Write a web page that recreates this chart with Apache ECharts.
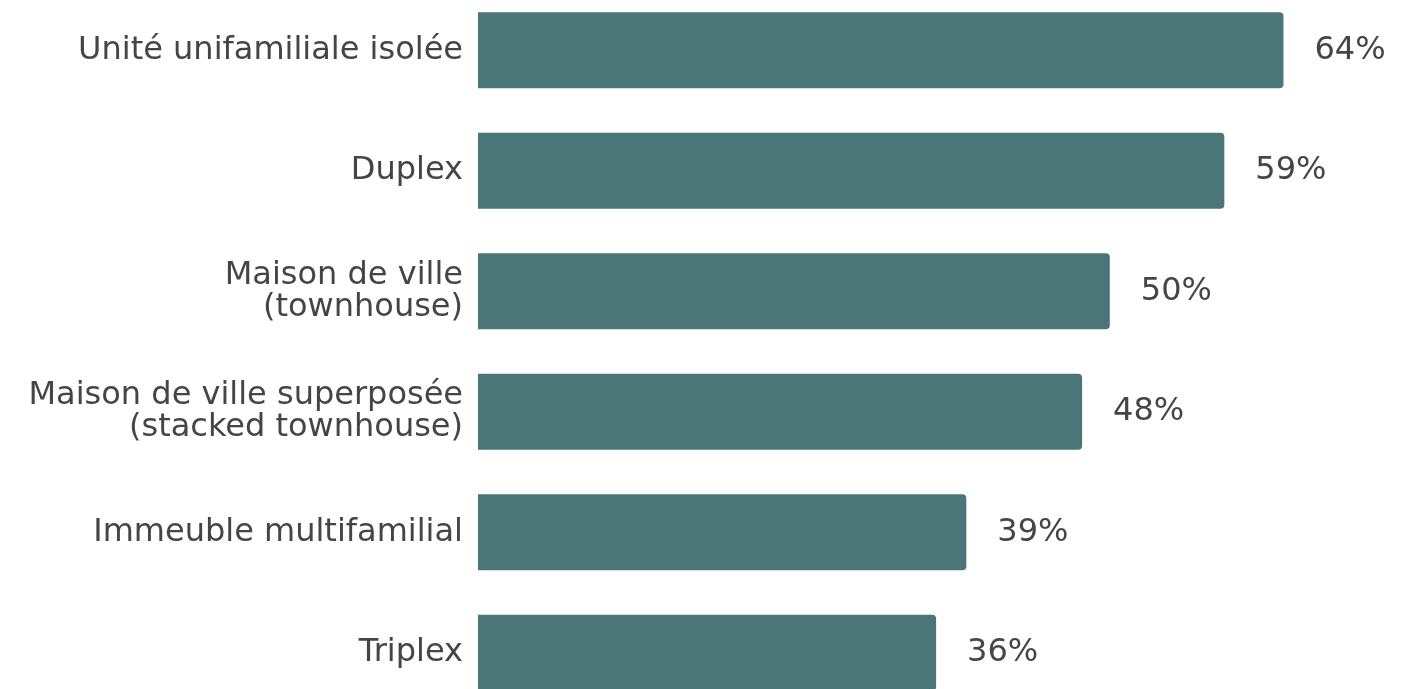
<!DOCTYPE html>
<html>
<head>
<meta charset="utf-8">
<script src="https://cdn.jsdelivr.net/npm/echarts@6/dist/echarts.min.js"></script>
<style>
html,body{margin:0;padding:0;background:#fff;overflow:hidden;}
#main{position:absolute;left:0;top:-10px;width:1425px;height:723px;}
</style>
</head>
<body>
<div id="main"></div>
<script>
const categories = [
  "Unité unifamiliale isolée",
  "Duplex",
  "Maison de ville\n(townhouse)",
  "Maison de ville superposée\n(stacked townhouse)",
  "Immeuble multifamilial",
  "Triplex"
];
const values = [64, 59.3, 50.2, 48, 38.8, 36.4];

const chart = echarts.init(document.getElementById('main'), null, {renderer: 'canvas'});
chart.setOption({
  backgroundColor: '#ffffff',
  animation: false,
  grid: { left: 478, right: 66, top: 0, bottom: 0 },
  xAxis: {
    type: 'value', min: 0, max: 70, show: false
  },
  yAxis: {
    type: 'category',
    data: categories,
    inverse: true,
    axisLine: { show: false },
    axisTick: { show: false },
    axisLabel: {
      margin: 15,
      fontFamily: 'DejaVu Sans, Verdana, sans-serif',
      fontSize: 32,
      lineHeight: 32,
      color: '#454545',
      align: 'right'
    }
  },
  series: [{
    type: 'bar',
    data: values,
    barWidth: 76,
    itemStyle: { color: '#4a7677', borderRadius: [0, 4, 4, 0] },
    label: {
      show: true,
      position: 'right',
      distance: 31,
      fontFamily: 'DejaVu Sans, Verdana, sans-serif',
      fontSize: 32,
      color: '#454545',
      formatter: p => Math.round(p.value) + '%'
    }
  }]
});
</script>
</body>
</html>
